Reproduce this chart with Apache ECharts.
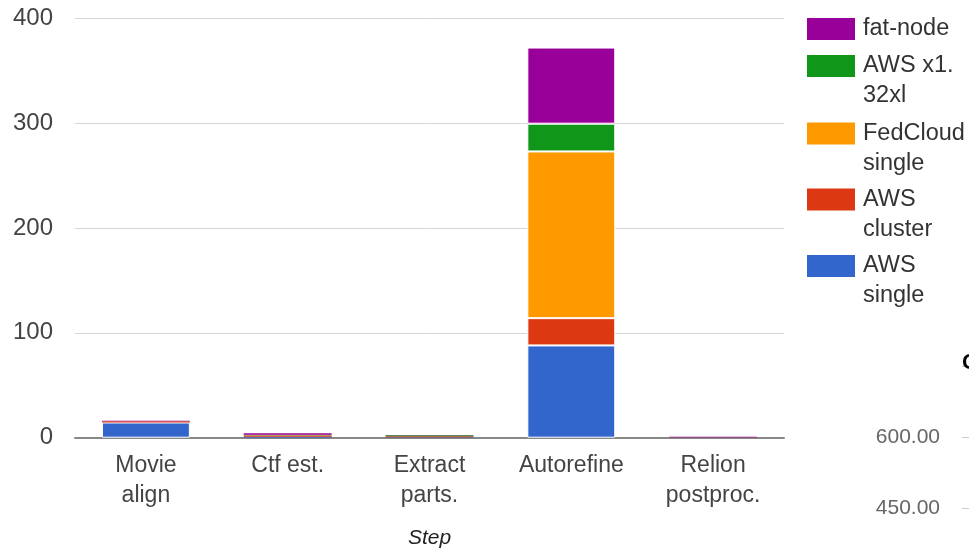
<!DOCTYPE html>
<html>
<head>
<meta charset="utf-8">
<script src="https://cdn.jsdelivr.net/npm/echarts@6/dist/echarts.min.js"></script>
<style>
  html, body { margin: 0; padding: 0; background: #fff; }
  #chart { width: 969px; height: 551px; }
</style>
</head>
<body>
<div id="chart"></div>
<script>
// Processing steps on the x axis
const steps = ['Movie\nalign', 'Ctf est.', 'Extract\nparts.', 'Autorefine', 'Relion\npostproc.'];

// Time per step for each platform (stacked bottom to top)
const awsSingle   = [14.5, 1.0, 0.5, 88.0, 0.2];
const awsCluster  = [1.2, 1.2, 0.8, 26.0, 0.3];
const fedCloud    = [0.0, 0.2, 0.0, 159.0, 0.0];
const awsX1       = [0.0, 0.5, 1.0, 26.5, 0.0];
const fatNode     = [0.4, 1.3, 0.2, 72.6, 0.5];

// Series names and how they read in the legend
const seriesNames  = ['AWS single', 'AWS cluster', 'FedCloud single', 'AWS x1.32xl', 'fat-node'];
const legendLabels = ['AWS\nsingle', 'AWS\ncluster', 'FedCloud\nsingle', 'AWS x1.\n32xl', 'fat-node'];
const seriesValues = [awsSingle, awsCluster, fedCloud, awsX1, fatNode];
const seriesColors = ['#3366cc', '#dc3912', '#ff9900', '#109618', '#990099'];

// Neighbouring chart's axis ticks
const sideTicks = [300, 450, 600, 750];

const FONT = '"Liberation Sans", Arial, sans-serif';

const series = seriesNames.map((name, i) => ({
  name: name,
  type: 'bar',
  stack: 'total',
  xAxisIndex: 0,
  yAxisIndex: 0,
  barWidth: '62%',
  itemStyle: { color: seriesColors[i] },
  // thin white separation only on segments tall enough to show it
  data: seriesValues[i].map(v => v >= 5
    ? { value: v, itemStyle: { borderColor: '#ffffff', borderWidth: 1 } }
    : { value: v })
}));

// One legend per entry so the swatch lines up with the first text line
const legendCenters = [266, 199.5, 133.5, 66, 29];
const LINE = 30;
const legends = seriesNames.map((name, i) => {
  const lines = legendLabels[i].split('\n').length;
  const text = lines > 1 ? '\n' + legendLabels[i] : legendLabels[i];
  const blockLines = lines > 1 ? lines + 1 : 1;
  return {
    data: [name],
    orient: 'vertical',
    left: 807,
    top: legendCenters[i] - blockLines * LINE / 2,
    padding: 0,
    itemWidth: 48,
    itemHeight: 22,
    itemStyle: { borderWidth: 0 },
    selectedMode: false,
    icon: 'rect',
    formatter: () => text,
    textStyle: {
      fontFamily: FONT,
      fontSize: 23.5,
      color: '#333',
      lineHeight: LINE,
      padding: [0, 0, 0, 3]
    }
  };
});

const chart = echarts.init(document.getElementById('chart'), null, { renderer: 'canvas' });
chart.setOption({
  animation: false,
  backgroundColor: '#ffffff',
  title: {
    text: 'C',
    left: 962,
    top: 352,
    padding: 0,
    textStyle: { fontFamily: FONT, fontSize: 22, fontWeight: 'bold', color: '#000' }
  },
  legend: legends,
  grid: [
    { left: 75, right: 185, top: 18.3, bottom: 113.3, containLabel: false, outerBoundsMode: 'none' },
    { left: 962, right: -60, top: 366, bottom: -28, containLabel: false, outerBoundsMode: 'none' }
  ],
  xAxis: [
    {
      type: 'category',
      gridIndex: 0,
      data: steps,
      axisTick: { show: false },
      axisLine: { lineStyle: { color: '#888', width: 2 } },
      axisLabel: {
        interval: 0,
        margin: 13,
        fontFamily: FONT,
        fontSize: 23,
        lineHeight: 30,
        color: '#444',
        verticalAlign: 'top'
      },
      name: 'Step',
      nameLocation: 'middle',
      nameGap: 90,
      nameTextStyle: { fontFamily: FONT, fontSize: 21, fontStyle: 'italic', color: '#222' }
    },
    { type: 'value', gridIndex: 1, min: 0, max: 1, show: false }
  ],
  yAxis: [
    {
      type: 'value',
      gridIndex: 0,
      min: 0,
      max: 400,
      interval: 100,
      axisLine: { show: false },
      axisTick: { show: false },
      splitLine: { lineStyle: { color: '#d6d6d6', width: 1 } },
      axisLabel: { margin: 22, fontFamily: FONT, fontSize: 24, color: '#444' }
    },
    {
      type: 'value',
      gridIndex: 1,
      min: sideTicks[0],
      max: sideTicks[sideTicks.length - 1],
      interval: sideTicks[1] - sideTicks[0],
      axisLine: { show: false },
      axisTick: { show: false },
      splitLine: { lineStyle: { color: '#cccccc', width: 1 } },
      axisLabel: {
        showMaxLabel: false,
        margin: 22,
        fontFamily: FONT,
        fontSize: 21,
        color: '#666',
        formatter: v => v.toFixed(2)
      }
    }
  ],
  series: series
});
</script>
</body>
</html>
